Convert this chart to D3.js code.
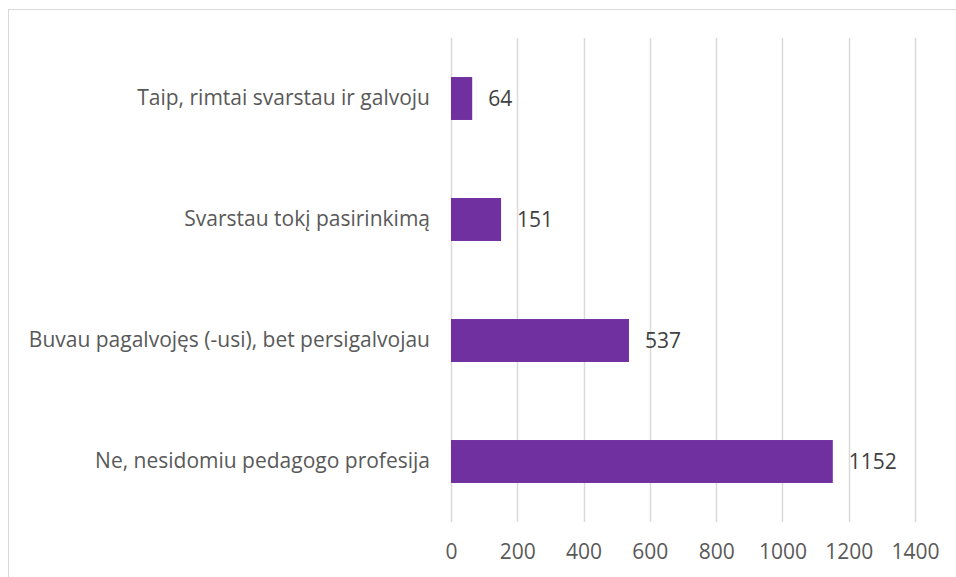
<!DOCTYPE html>
<html lang="lt">
  <head>
    <meta charset="utf-8">
    <title>Chart</title>
    <script src="https://d3js.org/d3.v7.min.js" charset="utf-8"></script>
    <style type="text/css">
        body {
            margin: 0;
            background: #fff;
        }
        svg {
            display: block;
            font-family: 'Open Sans', sans-serif;
        }
    </style>
  </head>
  <body>
    <script type="text/javascript">
        // duomenys
        var categories = [
            "Taip, rimtai svarstau ir galvoju",
            "Svarstau tokį pasirinkimą",
            "Buvau pagalvojęs (-usi), bet persigalvojau",
            "Ne, nesidomiu pedagogo profesija"
        ];
        var values = [64, 151, 537, 1152];
        var tickValues = [0, 200, 400, 600, 800, 1000, 1200, 1400];

        var W = 956, H = 577;
        // "top" yra rezervuotas window kintamasis, todėl kiti vardai
        var plotLeft = 451, plotRight = 915, plotTop = 38, plotBottom = 522;

        var svg = d3.select("body").append("svg")
            .attr("width", W)
            .attr("height", H);

        // rėmelis
        svg.append("rect")
            .attr("x", 8.5).attr("y", 9.5)
            .attr("width", W).attr("height", H)
            .attr("fill", "none")
            .attr("stroke", "#d9d9d9");

        var x = d3.scaleLinear().domain([0, 1400]).range([plotLeft, plotRight]);
        var y = d3.scaleBand()
            .domain(categories)
            .range([plotTop, plotBottom])
            .paddingInner(0.645)
            .paddingOuter(0.3225);

        // tinklelis
        svg.append("g")
            .selectAll("line")
            .data(tickValues)
            .enter()
            .append("line")
            .attr("x1", function (d) { return Math.round(x(d)) + 0.5; })
            .attr("x2", function (d) { return Math.round(x(d)) + 0.5; })
            .attr("y1", plotTop)
            .attr("y2", plotBottom)
            .attr("stroke", "#d9d9d9")
            .attr("stroke-width", 1.5);

        // x ašis
        var xAxis = svg.append("g")
            .attr("transform", "translate(0," + plotBottom + ")")
            .call(d3.axisBottom(x).tickValues(tickValues).tickFormat(d3.format("d")).tickSize(0).tickPadding(22));
        xAxis.select(".domain").remove();
        xAxis.selectAll("text")
            .attr("font-size", 21)
            .attr("font-family", "'Open Sans', sans-serif")
            .attr("fill", "#595959");

        // y ašis
        var yAxis = svg.append("g")
            .attr("transform", "translate(" + plotLeft + ",0)")
            .call(d3.axisLeft(y).tickSize(0).tickPadding(21));
        yAxis.select(".domain").remove();
        yAxis.selectAll("text")
            .attr("font-size", 21)
            .attr("font-family", "'Open Sans', sans-serif")
            .attr("fill", "#595959");

        // stulpeliai
        svg.selectAll("rect.bar")
            .data(values)
            .enter()
            .append("rect")
            .attr("class", "bar")
            .attr("x", x(0))
            .attr("y", function (d, i) { return y(categories[i]); })
            .attr("width", function (d) { return x(d) - x(0); })
            .attr("height", y.bandwidth())
            .attr("fill", "#7030a0");

        // reikšmės
        svg.selectAll("text.val")
            .data(values)
            .enter()
            .append("text")
            .attr("class", "val")
            .attr("x", function (d) { return x(d) + 16; })
            .attr("y", function (d, i) { return y(categories[i]) + y.bandwidth() / 2; })
            .attr("dy", "0.35em")
            .attr("font-size", 21)
            .attr("fill", "#404040")
            .text(function (d) { return d; });
    </script>
  </body>
</html>
